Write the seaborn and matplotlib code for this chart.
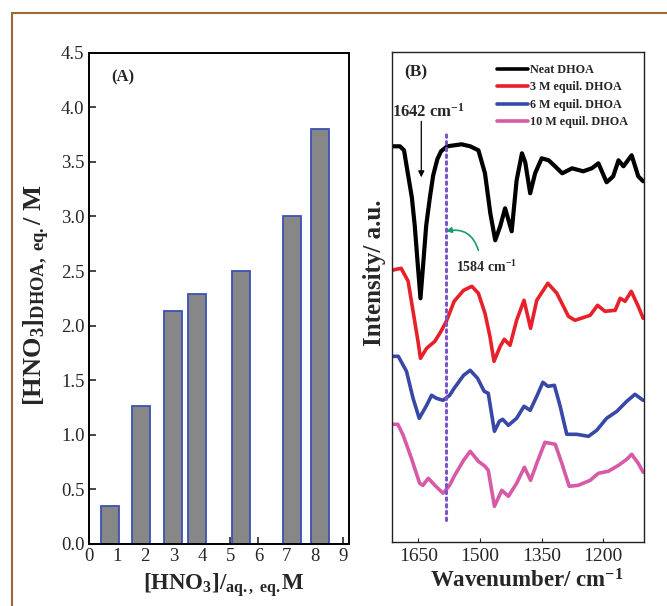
import numpy as np
import pandas as pd
import matplotlib
matplotlib.use("Agg")
import matplotlib.pyplot as plt
from matplotlib.lines import Line2D
import seaborn as sns

# ---------------- data ----------------
# Panel A: [HNO3] aqueous equilibrium vs [HNO3] in DHOA
conc_aq = [0.75, 1.85, 2.98, 3.82, 5.38, 7.18, 8.18]
conc_org = [0.35, 1.26, 2.13, 2.29, 2.50, 3.00, 3.80]
xticks_a = [0, 1, 2, 3, 4, 5, 6, 7, 8, 9]
yticks_a = [0.0, 0.5, 1.0, 1.5, 2.0, 2.5, 3.0, 3.5, 4.0, 4.5]

# Panel B: FTIR spectra (offset, arbitrary units)
series_names = ["Neat DHOA", "3 M equil. DHOA", "6 M equil. DHOA", "10 M equil. DHOA"]
wn_neat = [1715, 1695, 1685, 1675, 1666, 1659, 1652, 1645, 1638, 1631, 1622, 1614, 1604, 1595,
           1580, 1545, 1524, 1504, 1488, 1475, 1463, 1451, 1439, 1423, 1411, 1398, 1390, 1378,
           1366, 1350, 1333, 1315, 1300, 1276, 1249, 1228, 1212, 1192, 1176, 1163, 1151, 1131,
           1115, 1103]
int_neat = [396, 396, 392, 367, 345, 317, 280, 244, 280, 317, 345, 367, 383, 391,
            396, 398, 396, 392, 369, 329, 302, 316, 334, 311, 362, 389, 380, 349,
            369, 384, 382, 375, 369, 374, 371, 374, 379, 360, 366, 382, 376, 387,
            366, 361]
wn_3m = [1715, 1692, 1675, 1663, 1651, 1645, 1630, 1610, 1595, 1582, 1563, 1540, 1520, 1504,
         1488, 1476, 1466, 1451, 1441, 1427, 1411, 1393, 1377, 1362, 1335, 1313, 1285, 1269,
         1232, 1214, 1196, 1171, 1159, 1147, 1132, 1115, 1103]
int_3m = [272, 274, 261, 231, 201, 184, 194, 201, 211, 221, 241, 252, 256, 249,
          229, 206, 181, 196, 203, 197, 222, 242, 214, 242, 259, 249, 226, 222,
          227, 237, 231, 232, 244, 241, 251, 236, 224]
wn_6m = [1715, 1699, 1679, 1663, 1648, 1630, 1618, 1606, 1590, 1574, 1563, 1540, 1524, 1506,
         1490, 1480, 1465, 1453, 1445, 1431, 1411, 1393, 1378, 1362, 1347, 1335, 1319, 1305,
         1289, 1265, 1236, 1216, 1192, 1167, 1143, 1123, 1103]
int_6m = [186, 186, 171, 144, 124, 137, 147, 144, 142, 147, 154, 167, 172, 164,
          151, 149, 111, 121, 123, 117, 124, 136, 132, 146, 160, 156, 157, 136,
          108, 108, 106, 112, 124, 131, 141, 148, 142]
wn_10m = [1715, 1700, 1687, 1667, 1647, 1639, 1626, 1610, 1590, 1574, 1563, 1540, 1524, 1504,
          1488, 1480, 1465, 1447, 1431, 1411, 1392, 1377, 1362, 1342, 1317, 1301, 1283, 1261,
          1232, 1212, 1188, 1163, 1143, 1131, 1115, 1103]
int_10m = [118, 118, 107, 84, 59, 57, 64, 57, 49, 57, 66, 82, 91, 81,
           76, 72, 36, 52, 46, 59, 75, 62, 79, 100, 98, 79, 56, 57,
           62, 69, 71, 77, 83, 88, 79, 70]
xticks_b = [1650, 1500, 1350, 1200]
peak_main = 1642
peak_shift = 1584

# ---------------- style ----------------
sns.set_style("ticks")
plt.rcParams["font.family"] = ["Liberation Serif", "DejaVu Serif"]
plt.rcParams["mathtext.fontset"] = "custom"
plt.rcParams["mathtext.rm"] = "Liberation Serif"
plt.rcParams["mathtext.bf"] = "Liberation Serif:bold"
plt.rcParams["mathtext.it"] = "Liberation Serif:italic"

W, H = 667, 606
fig = plt.figure(figsize=(W / 100, H / 100), dpi=100)
fig.patch.set_facecolor("white")

# outer decorative border (left and top)
border_c = "#9c6a35"
fig.add_artist(Line2D([12 / W, 12 / W], [0, 1 - 12.7 / H], transform=fig.transFigure,
                      color=border_c, lw=1.5))
fig.add_artist(Line2D([12 / W, 1], [1 - 12.7 / H, 1 - 12.7 / H], transform=fig.transFigure,
                      color=border_c, lw=1.5))

# ---------------- panel A ----------------
axA = fig.add_axes([88.7 / W, 1 - 544 / H, (349 - 88.7) / W, (544 - 52.7) / H])
dfA = pd.DataFrame({"aq": conc_aq, "org": conc_org})
min_gap = np.min(np.diff(np.sort(conc_aq)))
sns.barplot(data=dfA, x="aq", y="org", native_scale=True, ax=axA,
            color="#878787", saturation=1, edgecolor="#3a50b6", linewidth=1.3,
            width=0.62 / min_gap, errorbar=None)
axA.set_xlim(0.05, 9.2)
axA.set_ylim(0, 4.5)
axA.set_xticks(xticks_a)
axA.set_xticklabels([str(v) for v in xticks_a])
axA.set_yticks(yticks_a)
axA.set_yticklabels([f"{v:.1f}" for v in yticks_a])
axA.tick_params(direction="in", length=5, width=1.2, labelsize=13.5, pad=3)
for s in axA.spines.values():
    s.set_linewidth(1.4)
    s.set_color("black")
axA.set_xlabel(r"[HNO$_\mathbf{3}$]/$_\mathbf{aq.,\ eq.}$M", fontsize=16.5, fontweight="bold")
axA.set_ylabel(r"[HNO$_\mathbf{3}$]$_\mathbf{DHOA,\ eq.}$/ M", fontsize=19, fontweight="bold")
axA.xaxis.set_label_coords(0.52, -0.083)
axA.xaxis.label.set_va("center")
axA.yaxis.set_label_coords(-0.200, 0.507)
axA.yaxis.label.set_va("center")
axA.text(1.22, 4.27, "(A)", fontsize=12, fontweight="bold", ha="center", va="center")

# ---------------- panel B ----------------
axB = fig.add_axes([391.7 / W, 1 - 542.3 / H, (644 - 391.7) / W, (542.3 - 51.7) / H])
frames = []
for name, wn, it in zip(series_names, [wn_neat, wn_3m, wn_6m, wn_10m],
                        [int_neat, int_3m, int_6m, int_10m]):
    frames.append(pd.DataFrame({"wn": wn, "val": it, "series": name}))
dfB = pd.concat(frames, ignore_index=True)
palette = {"Neat DHOA": "#000000", "3 M equil. DHOA": "#e8202a",
           "6 M equil. DHOA": "#3748a6", "10 M equil. DHOA": "#d65aa6"}
sns.lineplot(data=dfB, x="wn", y="val", hue="series", hue_order=series_names,
             palette=palette, linewidth=2.6, ax=axB, legend=True)
for ln in axB.get_lines()[:1]:
    ln.set_linewidth(3.0)
axB.set_xlim(1715, 1101)
axB.set_ylim(0, 490.6)
axB.set_xticks(xticks_b)
axB.set_yticks([])
axB.tick_params(axis="x", direction="in", length=3, labelsize=14, pad=4)
for s in axB.spines.values():
    s.set_linewidth(1.0)
    s.set_color("#222222")

# dotted marker line at shifted peak
axB.plot([peak_shift, peak_shift], [22, 410], color="#7b55c8", lw=2.2,
         linestyle=(0, (0.8, 1.4)), dash_capstyle="round")

# annotations
axB.text(1626, 430.6, r"%d cm$^{\mathbf{-1}}$" % peak_main, fontsize=12, fontweight="bold",
         ha="center", va="center")
axB.annotate("", xy=(1643, 365), xytext=(1643, 421),
             arrowprops=dict(arrowstyle="-|>", color="black", lw=0.9, mutation_scale=9,
                             shrinkA=0, shrinkB=0))
axB.text(1484, 275.6, r"%d cm$^{\mathbf{-1}}$" % peak_shift, fontsize=10, fontweight="bold",
         ha="center", va="center")
axB.annotate("", xy=(1583, 311), xytext=(1504, 292),
             arrowprops=dict(arrowstyle="-|>", color="#1a9a70", lw=1.2, mutation_scale=8,
                             connectionstyle="arc3,rad=0.45", shrinkA=0, shrinkB=0))
axB.text(1657, 470, "(B)", fontsize=12.5, fontweight="bold", ha="center", va="center")

axB.set_xlabel(r"Wavenumber/ cm$^{\mathbf{-1}}$", fontsize=16.5, fontweight="bold")
axB.set_ylabel("Intensity/ a.u.", fontsize=18, fontweight="bold")
axB.xaxis.set_label_coords(0.535, -0.079)
axB.xaxis.label.set_va("center")
axB.yaxis.set_label_coords(-0.070, 0.55)
axB.yaxis.label.set_va("center")

handles, labels = axB.get_legend_handles_labels()
leg = axB.legend(handles, labels, loc="upper left", bbox_to_anchor=(491 / W, 1 - 58 / H),
                 bbox_transform=fig.transFigure, frameon=False, borderpad=0,
                 handlelength=2.6, handletextpad=0.1, labelspacing=0.45,
                 prop={"family": "Liberation Serif", "weight": "bold", "size": 8.7})
for lh in leg.get_lines():
    lh.set_linewidth(2.6)

fig.savefig("out.png", dpi=100)
